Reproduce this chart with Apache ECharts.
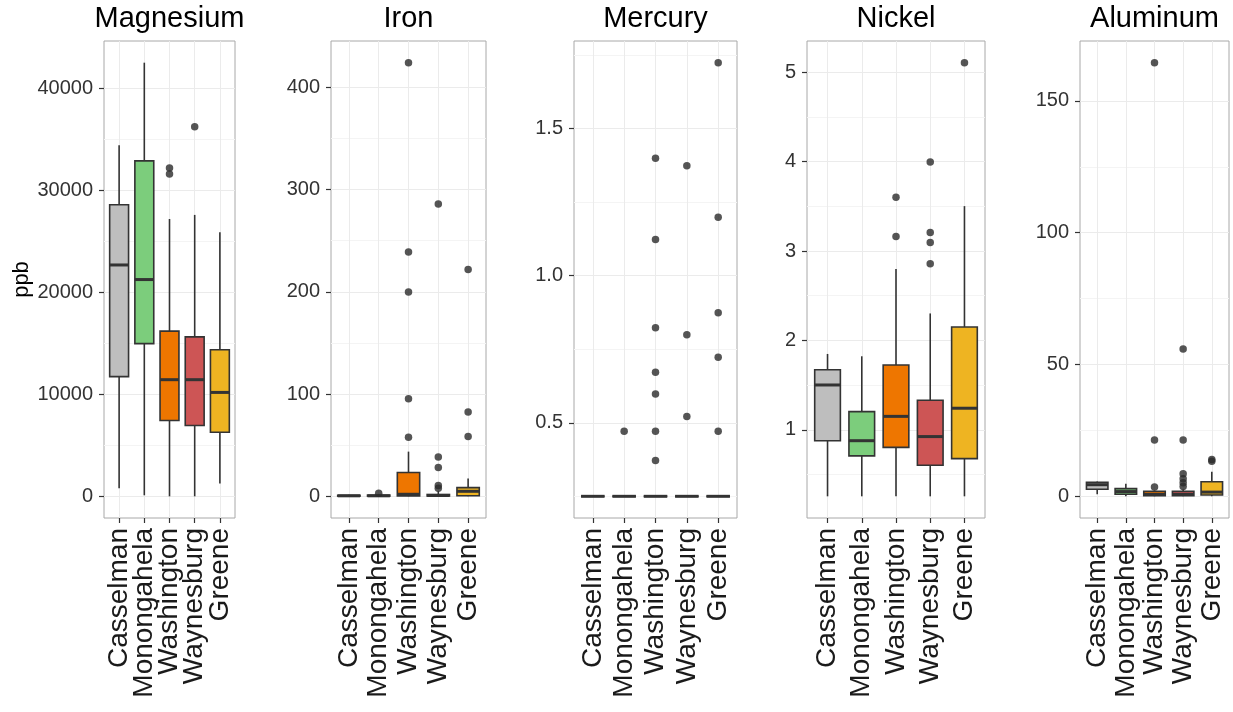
<!DOCTYPE html>
<html><head><meta charset="utf-8">
<script src="https://cdn.jsdelivr.net/npm/echarts@6/dist/echarts.min.js"></script>
<style>html,body{margin:0;padding:0;background:#fff}#c{width:1233px;height:712px}</style>
</head><body><div id="c"></div>
<script>
const categories = ['Casselman', 'Monongahela', 'Washington', 'Waynesburg', 'Greene'];
const panelTitles = ['Magnesium', 'Iron', 'Mercury', 'Nickel', 'Aluminum'];

// each box: [lower whisker, Q1, median, Q3, upper whisker]; outliers: [category number (1-5), value]
const magnesiumBoxes = [
  [800, 11740, 22690, 28600, 34430],
  [100, 14980, 21260, 32900, 42530],
  [0, 7440, 11440, 16200, 27200],
  [0, 6940, 11440, 15640, 27600],
  [1260, 6280, 10190, 14380, 25890]
];
const magnesiumOutliers = [[3, 32200], [3, 31600], [4, 36250]];

const ironBoxes = [
  [0, 0.2, 0.5, 1, 1.5],
  [0, 0.2, 0.5, 1.2, 2],
  [0, 0.4, 2, 23.3, 43.7],
  [0, 0.3, 0.8, 1.8, 5],
  [0, 0.6, 4.9, 8.5, 17.4]
];
const ironOutliers = [[2, 3], [3, 57.7], [3, 95.5], [3, 199.7], [3, 239], [3, 424],
  [4, 8], [4, 10.5], [4, 28.3], [4, 38.5], [4, 285.8], [5, 58.4], [5, 82.5], [5, 221.8]];

const mercuryBoxes = [
  [0.25, 0.25, 0.25, 0.25, 0.25],
  [0.25, 0.25, 0.25, 0.25, 0.25],
  [0.25, 0.25, 0.25, 0.25, 0.25],
  [0.25, 0.25, 0.25, 0.25, 0.25],
  [0.25, 0.25, 0.25, 0.25, 0.25]
];
const mercuryOutliers = [[2, 0.471], [3, 1.399], [3, 1.123], [3, 0.823], [3, 0.672], [3, 0.598],
  [3, 0.471], [3, 0.372], [4, 1.374], [4, 0.799], [4, 0.521], [5, 1.724], [5, 1.199],
  [5, 0.874], [5, 0.723], [5, 0.471]];

const nickelBoxes = [
  [0.257, 0.879, 1.502, 1.672, 1.849],
  [0.257, 0.709, 0.879, 1.204, 1.823],
  [0.257, 0.804, 1.151, 1.725, 2.8],
  [0.257, 0.604, 0.925, 1.332, 2.302],
  [0.257, 0.679, 1.242, 2.151, 3.502]
];
const nickelOutliers = [[3, 3.6], [3, 3.162], [4, 3.996], [4, 3.208], [4, 3.094], [4, 2.857], [5, 5.106]];

const aluminumBoxes = [
  [0.8, 2.7, 4.4, 5.3, 5.6],
  [0, 0.8, 1.8, 2.9, 4.8],
  [0, 0.2, 0.8, 1.9, 2.2],
  [0, 0.2, 0.8, 1.9, 2.6],
  [0, 0.5, 1.6, 5.5, 9.3]
];
const aluminumOutliers = [[3, 164.5], [3, 21.4], [3, 3.5], [4, 55.9], [4, 21.4], [4, 8.6],
  [4, 6.7], [4, 5.1], [4, 3.7], [5, 13.3], [5, 14]];

const magnesiumTicks = [0, 10000, 20000, 30000, 40000];
const magnesiumMinorTicks = [5000, 15000, 25000, 35000];
const ironTicks = [0, 100, 200, 300, 400];
const ironMinorTicks = [50, 150, 250, 350];
const mercuryTicks = [0.5, 1.0, 1.5];
const mercuryMinorTicks = [0.25, 0.75, 1.25, 1.75];
const nickelTicks = [1, 2, 3, 4, 5];
const nickelMinorTicks = [0.5, 1.5, 2.5, 3.5, 4.5];
const aluminumTicks = [0, 50, 100, 150];
const aluminumMinorTicks = [25, 75, 125];

const boxColors = ['#BEBEBE', '#7CCD7C', '#EE7600', '#CD5555', '#EEB422'];
const FONT = "'Liberation Sans', Arial, sans-serif";

const panels = [
  { boxes: magnesiumBoxes, outliers: magnesiumOutliers, ticks: magnesiumTicks, minor: magnesiumMinorTicks, fmt: v => String(v), left: 104, right: 235, yName: 'ppb' },
  { boxes: ironBoxes, outliers: ironOutliers, ticks: ironTicks, minor: ironMinorTicks, fmt: v => String(v), left: 331, right: 486 },
  { boxes: mercuryBoxes, outliers: mercuryOutliers, ticks: mercuryTicks, minor: mercuryMinorTicks, fmt: v => v.toFixed(1), left: 574, right: 737 },
  { boxes: nickelBoxes, outliers: nickelOutliers, ticks: nickelTicks, minor: nickelMinorTicks, fmt: v => String(v), left: 807, right: 985 },
  { boxes: aluminumBoxes, outliers: aluminumOutliers, ticks: aluminumTicks, minor: aluminumMinorTicks, fmt: v => String(v), left: 1080, right: 1229 }
];

const W = 1233, H = 712, TOP = 41, BOTTOM = 518;
const X_MIN = 0.4, X_MAX = 5.6;

function renderBox(params, api) {
  const x = api.value(0);
  const v = [1, 2, 3, 4, 5].map(k => api.value(k));
  const half = 0.375;
  const tl = api.coord([x - half, v[3]]);
  const br = api.coord([x + half, v[1]]);
  const top = api.coord([x, v[4]]);
  const bot = api.coord([x, v[0]]);
  const ml = api.coord([x - half, v[2]]);
  const mr = api.coord([x + half, v[2]]);
  const ls = { stroke: '#333333', lineWidth: 1.6 };
  return {
    type: 'group',
    children: [
      { type: 'line', shape: { x1: top[0], y1: top[1], x2: top[0], y2: tl[1] }, style: ls },
      { type: 'line', shape: { x1: bot[0], y1: bot[1], x2: bot[0], y2: br[1] }, style: ls },
      { type: 'rect', shape: { x: tl[0], y: tl[1], width: br[0] - tl[0], height: br[1] - tl[1] },
        style: { fill: boxColors[x - 1], stroke: '#333333', lineWidth: 1.6 } },
      { type: 'line', shape: { x1: ml[0], y1: ml[1], x2: mr[0], y2: mr[1] }, style: { stroke: '#333333', lineWidth: 3 } }
    ]
  };
}

const grid = [], xAxis = [], yAxis = [], series = [], title = [];
const n = panels.length;
panels.forEach((p, i) => {
  let lo = Infinity, hi = -Infinity;
  p.boxes.forEach(b => b.forEach(v => { lo = Math.min(lo, v); hi = Math.max(hi, v); }));
  p.outliers.forEach(o => { lo = Math.min(lo, o[1]); hi = Math.max(hi, o[1]); });
  const pad = (hi - lo) * 0.05;
  const yMin = lo - pad, yMax = hi + pad;
  const width = p.right - p.left;

  grid[i] = { left: p.left, width: width, top: TOP, height: BOTTOM - TOP,
    show: true, borderColor: '#A8A8A8', borderWidth: 1, backgroundColor: '#fff', containLabel: false };
  // label band grid: category bands aligned with the value positions 1..5
  const bw = width / (X_MAX - X_MIN);
  grid[n + i] = { left: p.left + (1 - X_MIN - 0.5) * bw, width: categories.length * bw, top: TOP, height: BOTTOM - TOP,
    show: false, containLabel: false };

  title.push({ text: panelTitles[i], left: (p.left + p.right) / 2, top: 4, textAlign: 'center', padding: 0,
    textStyle: { fontSize: 29, fontWeight: 'normal', color: '#000', fontFamily: FONT } });

  xAxis[i] = {
    type: 'value', gridIndex: i, min: X_MIN, max: X_MAX,
    axisLine: { show: false }, axisTick: { show: false, customValues: [1, 2, 3, 4, 5] }, axisLabel: { show: false },
    splitLine: { show: true, lineStyle: { color: '#EBEBEB', width: 1 } }
  };
  xAxis[n + i] = {
    type: 'category', gridIndex: n + i, data: categories, boundaryGap: true,
    axisLine: { show: false },
    axisTick: { show: true, alignWithLabel: true, interval: 0, length: 5, lineStyle: { color: '#333', width: 1.2 } },
    axisLabel: { interval: 0, rotate: 90, fontSize: 28, color: '#1a1a1a', fontFamily: FONT, margin: 10,
      showMinLabel: true, showMaxLabel: true, hideOverlap: false },
    splitLine: { show: false }
  };
  yAxis[3 * i] = {
    type: 'value', gridIndex: i, min: yMin, max: yMax,
    name: p.yName || '', nameLocation: 'middle', nameGap: 71, nameRotate: 90, nameMoveOverlap: false,
    nameTextStyle: { fontSize: 22, color: '#000', fontFamily: FONT },
    axisLine: { show: false },
    axisTick: { show: true, length: 5, customValues: p.ticks, lineStyle: { color: '#333', width: 1.2 } },
    axisLabel: { customValues: p.ticks, formatter: p.fmt, fontSize: 20, color: '#333', fontFamily: FONT, margin: 11,
      showMinLabel: true, showMaxLabel: true },
    splitLine: { show: true, lineStyle: { color: '#EBEBEB', width: 1 } }
  };
  yAxis[3 * i + 1] = {
    type: 'value', gridIndex: i, min: yMin, max: yMax, position: 'left',
    axisLine: { show: false },
    axisTick: { show: false, customValues: p.minor },
    axisLabel: { show: false, customValues: p.minor },
    splitLine: { show: true, lineStyle: { color: '#F4F4F4', width: 1 } }
  };
  yAxis[3 * i + 2] = { type: 'value', gridIndex: n + i, show: false, min: 0, max: 1 };

  series.push({
    type: 'custom', xAxisIndex: i, yAxisIndex: 3 * i, renderItem: renderBox,
    encode: { x: 0, y: [1, 2, 3, 4, 5] },
    data: p.boxes.map((b, j) => [j + 1].concat(b)), z: 3
  });
  series.push({
    type: 'scatter', xAxisIndex: i, yAxisIndex: 3 * i, symbolSize: 7.5,
    itemStyle: { color: '#2b2b2b' }, data: p.outliers, z: 4, silent: true
  });
});

const chart = echarts.init(document.getElementById('c'), null, { renderer: 'canvas', width: W, height: H });
chart.setOption({ animation: false, backgroundColor: '#fff', title, grid, xAxis, yAxis, series });
</script>
</body></html>
